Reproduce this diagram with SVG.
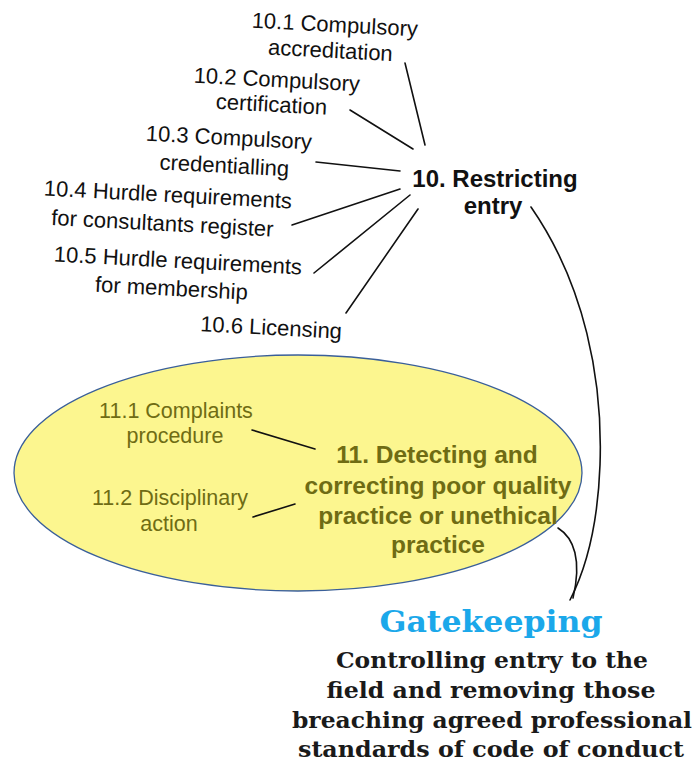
<svg xmlns="http://www.w3.org/2000/svg" width="698" height="773" viewBox="0 0 698 773">
<style>
.lbl{font-family:"Liberation Sans",Arial,sans-serif;font-size:22px;fill:#111;text-anchor:middle}
.hd{font-family:"Liberation Sans",Arial,sans-serif;font-size:24px;font-weight:bold;fill:#111;text-anchor:middle}
.g{font-family:"Liberation Sans",Arial,sans-serif;font-size:21.5px;fill:#6f6c14;text-anchor:middle}
.gh{font-family:"Liberation Sans",Arial,sans-serif;font-size:24.5px;font-weight:bold;fill:#6f6c14;text-anchor:middle}
.gk{font-family:"DejaVu Serif","Liberation Serif",serif;font-size:29px;font-weight:bold;fill:#1ba8ea;text-anchor:middle}
.body{font-family:"DejaVu Serif","Liberation Serif",serif;font-size:23px;font-weight:bold;fill:#1a1a1a;text-anchor:middle}
.ln{fill:none;stroke:#111;stroke-width:1.6;stroke-linecap:round}
</style>
<rect width="698" height="773" fill="#fff"/>
<g id="n11">
<ellipse cx="298" cy="473" rx="284" ry="118" fill="#fcf68f" stroke="#3a5f9a" stroke-width="1.3"/>
<text class="gh" x="437" y="463">11. Detecting and</text>
<text class="gh" x="438" y="494">correcting poor quality</text>
<text class="gh" x="438" y="524">practice or unethical</text>
<text class="gh" x="438" y="553">practice</text>
</g>
<g id="n11-1">
<text class="g" x="176" y="418">11.1 Complaints</text>
<text class="g" x="175" y="443">procedure</text>
</g>
<g id="n11-2">
<text class="g" x="170" y="505">11.2 Disciplinary</text>
<text class="g" x="169" y="531">action</text>
</g>
<g id="n10">
<text class="hd" x="495" y="187">10. Restricting</text>
<text class="hd" x="493" y="214">entry</text>
</g>
<g id="n10-1" transform="rotate(3 334 40)">
<text class="lbl" x="334" y="32">10.1 Compulsory</text>
<text class="lbl" x="331" y="58">accreditation</text>
</g>
<g id="n10-2" transform="rotate(3 276 95)">
<text class="lbl" x="276" y="87">10.2 Compulsory</text>
<text class="lbl" x="272" y="112">certification</text>
</g>
<g id="n10-3" transform="rotate(3 228 155)">
<text class="lbl" x="228" y="145">10.3 Compulsory</text>
<text class="lbl" x="225" y="173">credentialling</text>
</g>
<g id="n10-4" transform="rotate(3 167 212)">
<text class="lbl" x="167" y="202">10.4 Hurdle requirements</text>
<text class="lbl" x="163" y="231">for consultants register</text>
</g>
<g id="n10-5" transform="rotate(3 177 278)">
<text class="lbl" x="177" y="268">10.5 Hurdle requirements</text>
<text class="lbl" x="172" y="296">for membership</text>
</g>
<g id="n10-6" transform="rotate(3 271 330)">
<text class="lbl" x="271" y="335">10.6 Licensing</text>
</g>
<g id="gatekeeping">
<text class="gk" x="491" y="632" textLength="223" lengthAdjust="spacingAndGlyphs">Gatekeeping</text>
<text class="body" x="492" y="668" textLength="312" lengthAdjust="spacingAndGlyphs">Controlling entry to the</text>
<text class="body" x="491" y="698" textLength="329" lengthAdjust="spacingAndGlyphs">field and removing those</text>
<text class="body" x="492" y="728" textLength="400" lengthAdjust="spacingAndGlyphs">breaching agreed professional</text>
<text class="body" x="491" y="757" textLength="386" lengthAdjust="spacingAndGlyphs">standards of code of conduct</text>
</g>
<g id="connectors">
<path class="ln" d="M405,63 L425,145"/>
<path class="ln" d="M350,110 L413,149"/>
<path class="ln" d="M316,162 L400,171"/>
<path class="ln" d="M292,225 L400,189"/>
<path class="ln" d="M314,273 L410,195"/>
<path class="ln" d="M346,313 L418,209"/>
<path class="ln" d="M252,430 L315,449"/>
<path class="ln" d="M253,517 L295,504"/>
<path class="ln" d="M531,207 C585,285 603,380 600,465 C598,520 588,565 570,600"/>
<path class="ln" d="M558,528 C574,538 582,560 573,598"/>
</g>
</svg>
